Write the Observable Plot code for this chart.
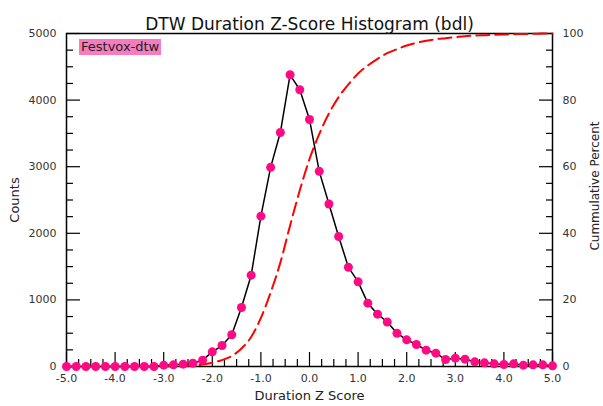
<!DOCTYPE html>
<html>
<head>
<meta charset="utf-8">
<script src="https://cdn.jsdelivr.net/npm/d3@7"></script>
<script src="https://cdn.jsdelivr.net/npm/@observablehq/plot@0.6"></script>
<style>
  html, body { margin: 0; padding: 0; background: #fff; }
  #wrap { position: relative; width: 603px; height: 406px; overflow: hidden; font-family: "DejaVu Sans", Verdana, sans-serif; }
  #legend { position: absolute; left: 79px; top: 39px; height: 16px; line-height: 16px; padding: 0 2px; background: #f67cbf; color: #222; font-size: 13px; }
</style>
</head>
<body>
<div id="wrap"><div id="legend"></div></div>
<script>
const titleText = "DTW Duration Z-Score Histogram (bdl)";
const xLabel = "Duration Z Score";
const yLabel = "Counts";
const y2Label = "Cummulative Percent";
const seriesName = "Festvox-dtw";

// Bin centers (z-score)
const zScores = [-5.0,-4.8,-4.6,-4.4,-4.2,-4.0,-3.8,-3.6,-3.4,-3.2,-3.0,-2.8,-2.6,-2.4,-2.2,-2.0,-1.8,-1.6,-1.4,-1.2,-1.0,-0.8,-0.6,-0.4,-0.2,0.0,0.2,0.4,0.6,0.8,1.0,1.2,1.4,1.6,1.8,2.0,2.2,2.4,2.6,2.8,3.0,3.2,3.4,3.6,3.8,4.0,4.2,4.4,4.6,4.8,5.0];
// Counts per bin
const counts = [0,0,0,0,0,0,0,0,0,0,20,25,35,50,95,220,315,476,886,1371,2257,2990,3513,4380,4155,3709,2930,2440,1952,1491,1271,951,786,668,500,400,330,245,200,105,125,110,70,55,40,30,40,20,25,25,10];
// Cumulative percent
const cumPercent = [0,0,0,0,0,0,0,0,0,0,0.05,0.11,0.2,0.33,0.57,1.13,1.93,3.14,5.4,8.88,14.6,22.2,31.2,42.3,52.9,62.3,69.8,76.0,80.9,84.7,88.0,90.4,92.4,94.1,95.3,96.4,97.2,97.8,98.3,98.6,98.9,99.2,99.4,99.5,99.6,99.7,99.8,99.85,99.9,99.97,100];

const xTicks = [-5,-4,-3,-2,-1,0,1,2,3,4,5];
const xMinorTicks = [-4.75,-4.5,-4.25,-3.75,-3.5,-3.25,-2.75,-2.5,-2.25,-1.75,-1.5,-1.25,-0.75,-0.5,-0.25,0.25,0.5,0.75,1.25,1.5,1.75,2.25,2.5,2.75,3.25,3.5,3.75,4.25,4.5,4.75];
const yTicks = [0,1000,2000,3000,4000,5000];
const yMinorTicks = [250,500,750,1250,1500,1750,2250,2500,2750,3250,3500,3750,4250,4500,4750];
const y2TickLabels = [0,20,40,60,80,100];

const countMax = 5000;
const pctMax = 100;

const data = zScores.map((z, i) => ({z, count: counts[i], pct: cumPercent[i]}));

document.getElementById("legend").textContent = seriesName;

const font = "DejaVu Sans, Verdana, sans-serif";
const chart = Plot.plot({
  width: 603,
  height: 406,
  marginTop: 33,
  marginBottom: 40,
  marginLeft: 66,
  marginRight: 51,
  style: {fontFamily: font, fontSize: "11px", color: "#333", background: "transparent", overflow: "visible"},
  x: {domain: [-5, 5]},
  y: {domain: [0, countMax]},
  marks: [
    // bottom axis
    Plot.axisX({anchor: "bottom", ticks: xTicks, tickSize: 0, tickPadding: 8, tickFormat: d => d.toFixed(1), label: null}),
    Plot.axisX({anchor: "bottom", ticks: xTicks, tickSize: -14, tickFormat: () => "", label: null, stroke: "black", strokeWidth: 1.2}),
    Plot.axisX({anchor: "bottom", ticks: xMinorTicks, tickSize: -7, tickFormat: () => "", label: null, stroke: "black", strokeWidth: 1.2}),
    // left axis
    Plot.axisY({anchor: "left", ticks: yTicks, tickSize: 0, tickPadding: 10, tickFormat: d => String(d), label: null}),
    Plot.axisY({anchor: "left", ticks: yTicks, tickSize: -14, tickFormat: () => "", label: null, stroke: "black", strokeWidth: 1.2}),
    Plot.axisY({anchor: "left", ticks: yMinorTicks, tickSize: -7, tickFormat: () => "", label: null, stroke: "black", strokeWidth: 1.2}),
    // right axis (cumulative percent mapped onto count scale)
    Plot.axisY({anchor: "right", ticks: y2TickLabels.map(p => p * countMax / pctMax), tickSize: 0, tickPadding: 10, tickFormat: d => String(Math.round(d * pctMax / countMax)), label: null}),
    Plot.axisY({anchor: "right", ticks: yTicks, tickSize: -14, tickFormat: () => "", label: null, stroke: "black", strokeWidth: 1.2}),
    Plot.axisY({anchor: "right", ticks: yMinorTicks, tickSize: -7, tickFormat: () => "", label: null, stroke: "black", strokeWidth: 1.2}),
    Plot.frame({stroke: "black", strokeWidth: 1.5}),
    // histogram line
    Plot.line(data, {x: "z", y: "count", stroke: "black", strokeWidth: 1.5}),
    // cumulative percent
    Plot.line(data, {x: "z", y: d => d.pct * countMax / pctMax, stroke: "#ff0000", strokeWidth: 2, strokeDasharray: "13,6", curve: "monotone-x"}),
    Plot.dot(data, {x: "z", y: "count", r: 4.5, fill: "#ff0a84", stroke: "none"}),
    // titles
    Plot.text([titleText], {frameAnchor: "top", dy: -16, fontSize: 17, fill: "#111", textAnchor: "middle"}),
    Plot.text([xLabel], {frameAnchor: "bottom", dy: 33, fontSize: 13, fill: "#222", textAnchor: "middle"}),
    Plot.text([yLabel], {frameAnchor: "left", dx: -52, rotate: -90, fontSize: 13, fill: "#222", textAnchor: "middle"}),
    Plot.text([y2Label], {frameAnchor: "right", dx: 43, dy: -14, rotate: -90, fontSize: 12, fill: "#222", textAnchor: "middle"})
  ]
});
document.getElementById("wrap").appendChild(chart);
chart.style.position = "absolute";
chart.style.left = "0";
chart.style.top = "0";
</script>
</body>
</html>
